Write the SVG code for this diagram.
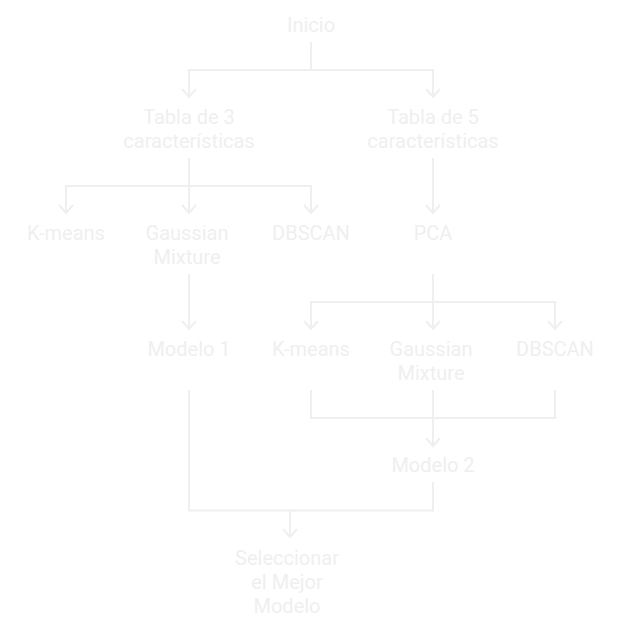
<svg xmlns="http://www.w3.org/2000/svg" width="622" height="642" viewBox="0 0 622 642">
  <style>
    .lbl { font-family: Roboto, "Liberation Sans", sans-serif; font-size: 20px; fill: #efefef; text-anchor: middle; }
    .edge { fill: none; stroke: #efefef; stroke-width: 2; }
  </style>
  <defs>
    <marker id="arrow" markerUnits="userSpaceOnUse" markerWidth="20" markerHeight="20" viewBox="-10 -10 20 20" refX="0" refY="0" orient="auto" overflow="visible">
      <path d="M-8,-7 L0,0 L-8,7" fill="none" stroke="#efefef" stroke-width="2"/>
    </marker>
  </defs>
  <rect width="622" height="642" fill="#ffffff"/>

  <g id="connectors">
    <path class="edge" d="M311,42 V70 H189 V97" marker-end="url(#arrow)"/>
    <path class="edge" d="M311,70 H433 V97" marker-end="url(#arrow)"/>
    <path class="edge" d="M189,158 V186 H66 V213" marker-end="url(#arrow)"/>
    <path class="edge" d="M189,186 V213" marker-end="url(#arrow)"/>
    <path class="edge" d="M189,186 H311 V213" marker-end="url(#arrow)"/>
    <path class="edge" d="M433,158 V213" marker-end="url(#arrow)"/>
    <path class="edge" d="M189,274 V329" marker-end="url(#arrow)"/>
    <path class="edge" d="M433,274 V302 H311 V329" marker-end="url(#arrow)"/>
    <path class="edge" d="M433,302 V329" marker-end="url(#arrow)"/>
    <path class="edge" d="M433,302 H555 V329" marker-end="url(#arrow)"/>
    <path class="edge" d="M311,390 V418 H555 V390"/>
    <path class="edge" d="M433,390 V446" marker-end="url(#arrow)"/>
    <path class="edge" d="M189,390 V510.5 H433 V482"/>
    <path class="edge" d="M290,510.5 V537" marker-end="url(#arrow)"/>
  </g>

  <g id="inicio"><text class="lbl" x="311" y="32">Inicio</text></g>
  <g id="tabla3"><text class="lbl" x="189" y="124">Tabla de 3</text><text class="lbl" x="189" y="148">características</text></g>
  <g id="tabla5"><text class="lbl" x="433" y="124">Tabla de 5</text><text class="lbl" x="433" y="148">características</text></g>
  <g id="kmeans1"><text class="lbl" x="66" y="240">K-means</text></g>
  <g id="gmm1"><text class="lbl" x="187" y="240">Gaussian</text><text class="lbl" x="187" y="264">Mixture</text></g>
  <g id="dbscan1"><text class="lbl" x="311" y="240">DBSCAN</text></g>
  <g id="pca"><text class="lbl" x="433" y="240">PCA</text></g>
  <g id="modelo1"><text class="lbl" x="189" y="356">Modelo 1</text></g>
  <g id="kmeans2"><text class="lbl" x="311" y="356">K-means</text></g>
  <g id="gmm2"><text class="lbl" x="431" y="356">Gaussian</text><text class="lbl" x="431" y="380">Mixture</text></g>
  <g id="dbscan2"><text class="lbl" x="555" y="356">DBSCAN</text></g>
  <g id="modelo2"><text class="lbl" x="433" y="472">Modelo 2</text></g>
  <g id="mejor"><text class="lbl" x="287" y="565">Seleccionar</text><text class="lbl" x="287" y="589">el Mejor</text><text class="lbl" x="287" y="613">Modelo</text></g>
</svg>
